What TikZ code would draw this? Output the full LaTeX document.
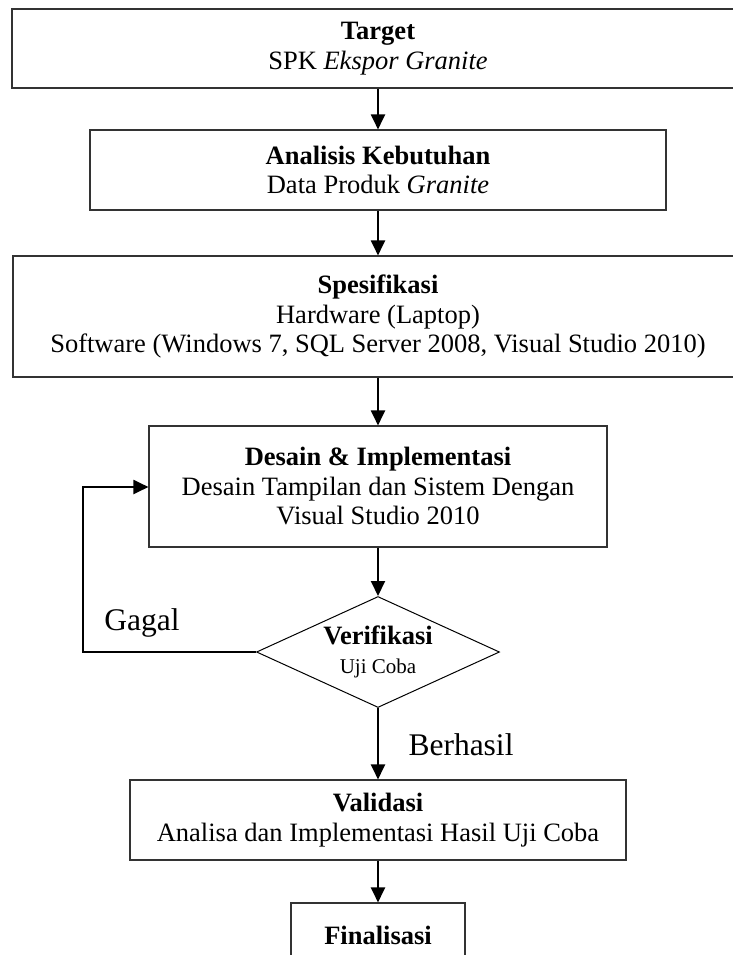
\documentclass[tikz,border=0pt]{standalone}
\usepackage{fontspec}
\setmainfont{Liberation Serif}
\usetikzlibrary{shapes.geometric,arrows.meta}
\newcommand\stage[6]{\node(#1)[stagebox,minimum width=#4pt,minimum height=#5pt] at (#2,#3){#6};}

\begin{document}
\begin{tikzpicture}[x=1pt,y=-1pt,
    stagebox/.style={draw=black!80,line width=1.1pt,rectangle,align=center,inner sep=0pt,
        font=\fontsize{26.5}{29.5}\selectfont},
    flow/.style={line width=2pt,-{Triangle[length=15pt,width=14pt]}},
    sidelabel/.style={font=\fontsize{31.5}{34}\selectfont,inner sep=0pt}]
    \useasboundingbox (0,0) rectangle (732,955);
    \stage{target}{378}{48.5}{732}{79}{\textbf{Target}\\SPK \textit{Ekspor Granite}}
    \stage{need}{378}{170}{576}{80}{\textbf{Analisis Kebutuhan}\\Data Produk \textit{Granite}}
    \stage{spec}{378}{316.5}{730}{121}{\textbf{Spesifikasi}\\Hardware (Laptop)\\Software (Windows 7, SQL Server 2008, Visual Studio 2010)}
    \stage{design}{378}{486.5}{458}{121}{\textbf{Desain \& Implementasi}\\Desain Tampilan dan Sistem Dengan\\Visual Studio 2010}
    \node(verif)[diamond,draw,line width=1pt,aspect=2.19,minimum width=243pt,minimum height=111pt,
        inner sep=0pt,align=center,font=\fontsize{26.5}{29}\selectfont] at (378,652)
        {\textbf{Verifikasi}\\{\fontsize{21}{25}\selectfont Uji Coba}};
    \stage{valid}{378}{820}{496}{80}{\textbf{Validasi}\\Analisa dan Implementasi Hasil Uji Coba}
    \stage{final}{378}{935}{174}{64}{\textbf{Finalisasi}}
    % labels of the two exits
    \node(fail)[sidelabel] at (142,623){Gagal};
    \node(pass)[sidelabel] at (461,745){Berhasil};
    \coordinate (loop) at (83,487);
    % connectors
    \draw[flow] (target) -- (need);
    \draw[flow] (need) -- (spec);
    \draw[flow] (spec) -- (design);
    \draw[flow] (design) -- (verif);
    \draw[flow] (verif) -- (valid);
    \draw[flow] (valid) -- (final);
    \draw[flow] (verif.west) -| (loop) -- (loop -| design.west);
\end{tikzpicture}
\end{document}
